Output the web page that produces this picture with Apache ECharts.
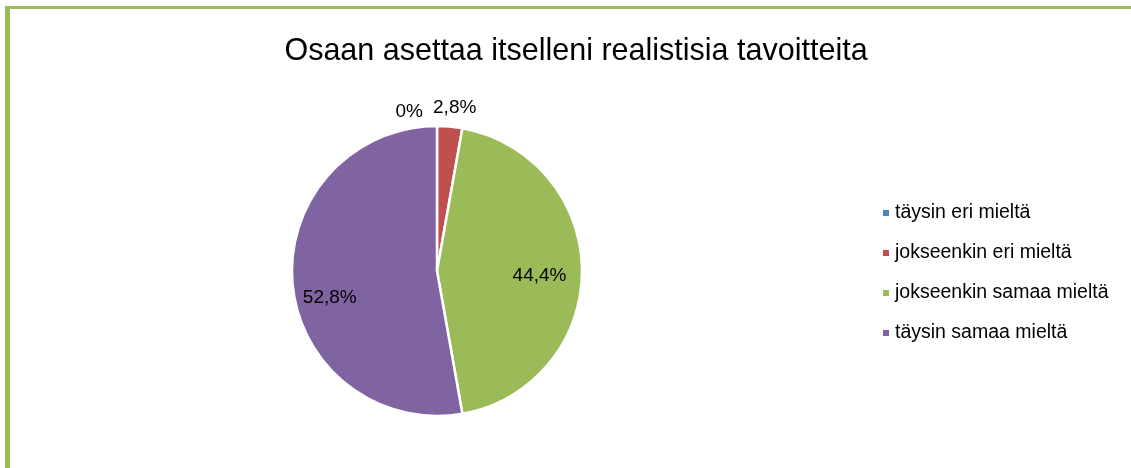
<!DOCTYPE html>
<html>
<head>
<meta charset="utf-8">
<script src="https://cdn.jsdelivr.net/npm/echarts@6/dist/echarts.min.js"></script>
<style>
  html, body { margin: 0; padding: 0; background: #ffffff; }
  #chart { width: 1131px; height: 468px; }
</style>
</head>
<body>
<div id="chart"></div>
<script>
// Survey answers: share of respondents per option (%)
const chartTitle = 'Osaan asettaa itselleni realistisia tavoitteita';
const categories = ['täysin eri mieltä', 'jokseenkin eri mieltä', 'jokseenkin samaa mieltä', 'täysin samaa mieltä'];
const shares = [0, 2.8, 44.4, 52.8];
const colors = ['#4F81BD', '#C0504D', '#9BBB59', '#8064A2'];

const FONT = '"Liberation Sans", Arial, sans-serif';

const fmt = v => String(v).replace('.', ',') + '%';

// small slices get their labels above the rim, large ones inside the slice
const labelShift = {
  0: { align: 'right', verticalAlign: 'bottom', dx: 21, dy: 10 },
  1: { align: 'left', verticalAlign: 'bottom', dx: -53, dy: 6 },
  2: { dx: 27, dy: 5 },
  3: { dx: -32, dy: 20 }
};

const chart = echarts.init(document.getElementById('chart'), null, { renderer: 'canvas' });
chart.setOption({
  backgroundColor: '#ffffff',
  animation: false,
  title: {
    text: chartTitle,
    left: 571,
    top: 31,
    textAlign: 'center',
    textStyle: { fontFamily: FONT, fontWeight: 'normal', fontSize: 30.5, color: '#000000' }
  },
  legend: {
    orient: 'vertical',
    left: 876,
    top: 198,
    icon: 'rect',
    itemWidth: 8,
    itemHeight: 8,
    itemGap: 20,
    textStyle: { fontFamily: FONT, fontSize: 19.5, color: '#000000' },
    data: categories
  },
  graphic: [
    { type: 'rect', shape: { x: 5, y: 6, width: 5, height: 462 }, style: { fill: '#9BBB59' } },
    { type: 'rect', shape: { x: 5, y: 6, width: 1126, height: 3 }, style: { fill: '#9BBB59' } }
  ],
  series: [{
    type: 'pie',
    center: [437, 271],
    radius: 145,
    startAngle: 90,
    clockwise: true,
    avoidLabelOverlap: false,
    minShowLabelAngle: 0,
    itemStyle: { borderColor: '#ffffff', borderWidth: 2.5 },
    label: {
      show: true,
      fontFamily: FONT,
      fontSize: 19,
      color: '#000000',
      formatter: p => fmt(p.value)
    },
    labelLine: { show: false },
    labelLayout: p => labelShift[p.dataIndex],
    data: categories.map((name, i) => ({
      name,
      value: shares[i],
      itemStyle: { color: colors[i] },
      label: i < 2
        ? { position: 'outside' }
        : { position: 'inside' }
    }))
  }]
});
</script>
</body>
</html>
